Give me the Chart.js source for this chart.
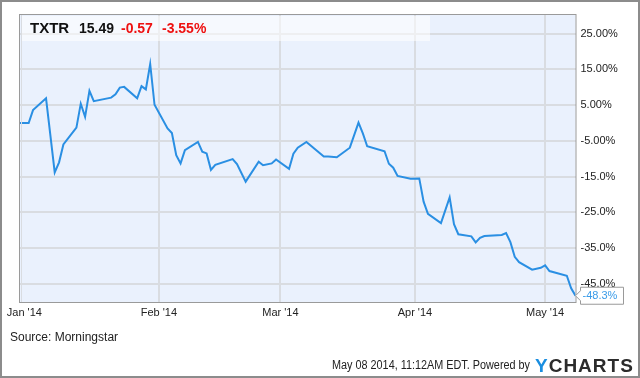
<!DOCTYPE html>
<html>
<head>
<meta charset="utf-8">
<script src="https://cdn.jsdelivr.net/npm/chart.js@4.4.1/dist/chart.umd.min.js"></script>
<style>
  html, body { margin: 0; padding: 0; background: #fff; }
  canvas { display: block; }
</style>
</head>
<body>
<canvas id="chart" width="640" height="378"></canvas>
<script>
'use strict';

// TXTR total return since Dec 31 2013 (percent)
const tradeDates = [
    '2013-12-31', '2014-01-02', '2014-01-03', '2014-01-06', '2014-01-08', '2014-01-09', '2014-01-10',
    '2014-01-13', '2014-01-14', '2014-01-15', '2014-01-16', '2014-01-17', '2014-01-21', '2014-01-22',
    '2014-01-23', '2014-01-24', '2014-01-27', '2014-01-28', '2014-01-29', '2014-01-30', '2014-01-31',
    '2014-02-03', '2014-02-04', '2014-02-05', '2014-02-06', '2014-02-07', '2014-02-10', '2014-02-11',
    '2014-02-12', '2014-02-13', '2014-02-14', '2014-02-18', '2014-02-19', '2014-02-21', '2014-02-24',
    '2014-02-25', '2014-02-27', '2014-02-28', '2014-03-03', '2014-03-04', '2014-03-05', '2014-03-07',
    '2014-03-11', '2014-03-12', '2014-03-14', '2014-03-17', '2014-03-19', '2014-03-20', '2014-03-21',
    '2014-03-25', '2014-03-26', '2014-03-27', '2014-03-28', '2014-03-31', '2014-04-02', '2014-04-03',
    '2014-04-04', '2014-04-07', '2014-04-09', '2014-04-10', '2014-04-11', '2014-04-14', '2014-04-15',
    '2014-04-16', '2014-04-17', '2014-04-21', '2014-04-22', '2014-04-23', '2014-04-24', '2014-04-25',
    '2014-04-28', '2014-04-30', '2014-05-01', '2014-05-02', '2014-05-06', '2014-05-07', '2014-05-08'
];
const txtrReturn = [
    0.0, 0.0, 3.6, 6.9, -13.8, -11.0, -6.0,
    -1.3, 5.4, 1.7, 9.0, 6.1, 7.1, 8.0,
    9.9, 10.1, 6.9, 10.3, 9.4, 16.5, 5.1,
    -1.5, -2.8, -9.0, -11.3, -7.6, -5.3, -8.0,
    -8.5, -13.1, -11.7, -10.1, -11.5, -16.4, -10.8,
    -11.8, -11.3, -10.2, -12.8, -8.6, -6.9, -5.3,
    -9.4, -9.4, -9.6, -6.9, 0.1, -2.9, -6.5,
    -7.9, -11.4, -12.5, -14.8, -15.6, -15.5, -22.0,
    -25.4, -28.0, -20.8, -28.3, -31.1, -31.7, -33.4,
    -32.1, -31.6, -31.3, -30.8, -33.3, -37.4, -38.9,
    -41.0, -40.5, -39.8, -41.4, -42.7, -46.2, -48.3
];

const xTickDates = ['2014-01-01', '2014-02-01', '2014-03-01', '2014-04-01', '2014-05-01'];
const xTickLabels = ["Jan '14", "Feb '14", "Mar '14", "Apr '14", "May '14"];
const yTickValues = [-45, -35, -25, -15, -5, 5, 15, 25];
const yTickLabels = ['-45.0%', '-35.0%', '-25.0%', '-15.0%', '-5.00%', '5.00%', '15.00%', '25.00%'];

const lastLabel = '-48.3%';

// days counted from Jan 1 2014, so a linear scale can act as the time axis
const dayZero = Date.UTC(2014, 0, 1);
function dayOf(iso) {
    return Math.round((Date.parse(iso + 'T00:00:00Z') - dayZero) / 86400000);
}

const points = tradeDates.map((d, i) => ({ x: dayOf(d), y: txtrReturn[i] }));
const xTickDays = xTickDates.map(dayOf);

const FONT = "'Liberation Sans', Arial, sans-serif";
const GRID = '#d9dce1';

// text squeezed to a given width, the footer font is narrower than Arial
function fitText(ctx, str, right, y, width) {
    const w = ctx.measureText(str).width;
    const k = Math.min(1, width / w);
    ctx.save();
    ctx.translate(right - w * k, y);
    ctx.scale(k, 1);
    ctx.fillText(str, 0, 0);
    ctx.restore();
}

const chartDecor = {
    id: 'chartDecor',
    beforeDraw(chart) {
        const { ctx, chartArea: a } = chart;
        ctx.save();
        ctx.fillStyle = '#ffffff';
        ctx.fillRect(0, 0, chart.width, chart.height);
        ctx.fillStyle = '#eaf1fd';
        ctx.fillRect(a.left, a.top, a.right - a.left, a.bottom - a.top);
        ctx.restore();
    },
    afterDraw(chart) {
        const { ctx, chartArea: a } = chart;
        ctx.save();

        // header band with quote
        ctx.fillStyle = 'rgba(255,255,255,0.55)';
        ctx.fillRect(a.left + 1, a.top + 1, 409, 25);
        ctx.textBaseline = 'alphabetic';
        ctx.fillStyle = '#111';
        ctx.font = 'bold 15px ' + FONT;
        ctx.fillText('TXTR', 30, 33);
        ctx.font = 'bold 14px ' + FONT;
        ctx.fillText('15.49', 79, 33);
        ctx.fillStyle = '#ee1111';
        ctx.fillText('-0.57', 121, 33);
        ctx.fillText('-3.55%', 162, 33);

        // plot frame
        ctx.strokeStyle = '#9a9a9a';
        ctx.lineWidth = 1;
        ctx.strokeRect(a.left - 0.5, a.top - 0.5, a.right - a.left + 1, a.bottom - a.top + 1);
        ctx.strokeStyle = GRID;
        ctx.beginPath();
        ctx.moveTo(a.left + 1.5, a.top);
        ctx.lineTo(a.left + 1.5, a.bottom);
        ctx.stroke();

        // last value flag
        const meta = chart.getDatasetMeta(0);
        const last = meta.data[meta.data.length - 1];
        const px = last.x, py = last.y;
        ctx.beginPath();
        ctx.moveTo(px, py);
        ctx.lineTo(px + 5, py - 5);
        ctx.lineTo(px + 5, py - 8.5);
        ctx.lineTo(px + 48, py - 8.5);
        ctx.lineTo(px + 48, py + 8.5);
        ctx.lineTo(px + 5, py + 8.5);
        ctx.lineTo(px + 5, py + 5);
        ctx.closePath();
        ctx.fillStyle = '#ffffff';
        ctx.fill();
        ctx.strokeStyle = '#9a9a9a';
        ctx.lineWidth = 1;
        ctx.stroke();
        ctx.fillStyle = '#3a9be8';
        ctx.font = '11px ' + FONT;
        ctx.textBaseline = 'middle';
        ctx.fillText(lastLabel, px + 7, py + 0.5);

        // footer
        ctx.fillStyle = '#222';
        ctx.textBaseline = 'alphabetic';
        ctx.font = '12px ' + FONT;
        ctx.fillText('Source: Morningstar', 10, 341);
        fitText(ctx, 'May 08 2014, 11:12AM EDT. Powered by', 530, 369, 198);
        ctx.font = 'bold 19px ' + FONT;
        ctx.fillStyle = '#1a8ee0';
        ctx.fillText('Y', 535, 372);
        let cx = 535 + ctx.measureText('Y').width + 1;
        ctx.fillStyle = '#2b2b2b';
        for (const ch of 'CHARTS') {
            ctx.fillText(ch, cx, 372);
            cx += ctx.measureText(ch).width + 1;
        }

        // outer frame
        ctx.strokeStyle = '#8c8c8c';
        ctx.lineWidth = 2;
        ctx.strokeRect(1, 1, chart.width - 2, chart.height - 2);
        ctx.restore();
    }
};

new Chart(document.getElementById('chart'), {
    type: 'line',
    data: {
        datasets: [{
            label: 'TXTR',
            data: points,
            borderColor: '#2a8fe3',
            borderWidth: 2,
            pointRadius: 0,
            tension: 0,
            fill: false
        }]
    },
    options: {
        responsive: false,
        animation: false,
        devicePixelRatio: 1,
        layout: { padding: { left: 20, top: 15, right: 0, bottom: 0 } },
        plugins: {
            legend: { display: false },
            tooltip: { enabled: false }
        },
        scales: {
            x: {
                type: 'linear',
                min: -1,
                max: 127,
                afterBuildTicks(scale) {
                    scale.ticks = xTickDays.map(v => ({ value: v }));
                },
                afterFit(scale) { scale.height = 76; },
                ticks: {
                    autoSkip: false,
                    maxRotation: 0,
                    padding: 4,
                    color: '#222',
                    font: { family: FONT, size: 11 },
                    callback(v) { return xTickLabels[xTickDays.indexOf(v)]; }
                },
                grid: {
                    // the January line sits on the plot edge in the original
                    color: ctx => (ctx.index === 0 ? 'rgba(0,0,0,0)' : GRID),
                    lineWidth: 2,
                    drawTicks: false
                },
                border: { display: false }
            },
            y: {
                position: 'right',
                min: -50.05,
                max: 30.2,
                afterBuildTicks(scale) {
                    scale.ticks = yTickValues.map(v => ({ value: v }));
                },
                afterFit(scale) { scale.width = 64.5; },
                ticks: {
                    padding: 5,
                    color: '#222',
                    font: { family: FONT, size: 11 },
                    callback(v) { return yTickLabels[yTickValues.indexOf(v)]; }
                },
                grid: { color: GRID, lineWidth: 2, drawTicks: false },
                border: { display: false }
            }
        }
    },
    plugins: [chartDecor]
});
</script>
</body>
</html>
